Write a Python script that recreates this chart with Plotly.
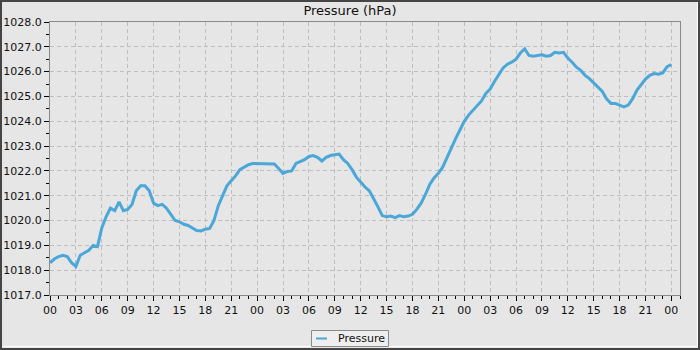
import plotly.graph_objects as go

# Hours since start (00:00 of day 1), sampled every half hour
hours = [i * 0.5 for i in range(145)]
pressure = [
    1018.30, 1018.45, 1018.55, 1018.60, 1018.55, 1018.30, 1018.15, 1018.60, 1018.70, 1018.80,
    1019.00, 1018.95, 1019.70, 1020.15, 1020.50, 1020.40, 1020.75, 1020.40, 1020.45, 1020.65,
    1021.20, 1021.40, 1021.40, 1021.20, 1020.70, 1020.60, 1020.65, 1020.50, 1020.25, 1020.00,
    1019.95, 1019.85, 1019.80, 1019.70, 1019.60, 1019.58, 1019.65, 1019.68, 1020.00, 1020.60,
    1021.00, 1021.40, 1021.60, 1021.80, 1022.05, 1022.15, 1022.25, 1022.30, 1022.30, 1022.28,
    1022.30, 1022.27, 1022.28, 1022.10, 1021.90, 1021.98, 1022.00, 1022.30, 1022.38, 1022.45,
    1022.58, 1022.62, 1022.55, 1022.40, 1022.55, 1022.62, 1022.65, 1022.68, 1022.45, 1022.30,
    1022.05, 1021.75, 1021.55, 1021.35, 1021.20, 1020.90, 1020.55, 1020.20, 1020.15, 1020.18,
    1020.12, 1020.20, 1020.15, 1020.18, 1020.25, 1020.45, 1020.70, 1021.05, 1021.45, 1021.72,
    1021.90, 1022.15, 1022.55, 1022.95, 1023.30, 1023.65, 1024.00, 1024.25, 1024.45, 1024.65,
    1024.82, 1025.12, 1025.30, 1025.60, 1025.90, 1026.15, 1026.30, 1026.38, 1026.50, 1026.75,
    1026.92, 1026.65, 1026.62, 1026.65, 1026.68, 1026.62, 1026.65, 1026.78, 1026.75, 1026.78,
    1026.55, 1026.38, 1026.18, 1026.05, 1025.85, 1025.72, 1025.55, 1025.35, 1025.20, 1024.90,
    1024.72, 1024.72, 1024.65, 1024.58, 1024.65, 1024.90, 1025.25, 1025.50, 1025.70, 1025.85,
    1025.92, 1025.90, 1025.95, 1026.20, 1026.28,
]
series_name = "Pressure"

x_tick_vals = list(range(0, 73, 3))
x_tick_text = ["00", "03", "06", "09", "12", "15", "18", "21",
               "00", "03", "06", "09", "12", "15", "18", "21",
               "00", "03", "06", "09", "12", "15", "18", "21", "00"]
y_tick_vals = [1017, 1018, 1019, 1020, 1021, 1022, 1023, 1024, 1025, 1026, 1027, 1028]
y_tick_text = [f"{v:.1f}" for v in y_tick_vals]

FONT = "DejaVu Sans"
BG = "#e6e6e6"
LINE = "#4aa7d8"

fig = go.Figure()
fig.add_trace(go.Scatter(
    x=hours, y=pressure, mode="lines", name=series_name,
    line=dict(color=LINE, width=3), showlegend=False,
))

axis_common = dict(
    showline=True, mirror=True, linecolor="#8a8a8a", linewidth=1,
    showgrid=True, gridcolor="#bebebe", gridwidth=1, griddash="4px,3px",
    ticks="outside", ticklen=5, tickcolor="#000000", tickwidth=1,
    tickfont=dict(family=FONT, size=11, color="#111111"),
    zeroline=False, fixedrange=True, automargin=False,
)

fig.update_xaxes(
    range=[0, 73], tickmode="array", tickvals=x_tick_vals, ticktext=x_tick_text,
    minor=dict(ticks="outside", ticklen=3, tick0=0, dtick=1, tickcolor="#000000", showgrid=False),
    **axis_common,
)
fig.update_yaxes(
    range=[1017, 1028], tickmode="array", tickvals=y_tick_vals, ticktext=y_tick_text,
    minor=dict(ticks="outside", ticklen=3, tick0=1017, dtick=0.5, tickcolor="#000000", showgrid=False),
    **axis_common,
)

# paper coords relative to plot area 50..680 x 22..295
pw, ph = 630.0, 273.0
def px(x):
    return (x - 50) / pw
def py(y):
    return (295 - y) / ph

shapes = [
    # outer frame
    dict(type="rect", xref="paper", yref="paper",
         x0=px(0), x1=px(700), y0=py(350), y1=py(0),
         line=dict(color="#454545", width=4), fillcolor="rgba(0,0,0,0)", layer="above"),
    dict(type="line", xref="paper", yref="paper",
         x0=px(697.5), x1=px(697.5), y0=py(346.5), y1=py(2),
         line=dict(color="#ffffff", width=1), layer="above"),
    dict(type="line", xref="paper", yref="paper",
         x0=px(2), x1=px(697.5), y0=py(346.5), y1=py(346.5),
         line=dict(color="#ffffff", width=1), layer="above"),
    # legend box
    dict(type="rect", xref="paper", yref="paper",
         x0=px(311.5), x1=px(388.5), y0=py(346.5), y1=py(330.5),
         line=dict(color="#8a8a8a", width=1), fillcolor="#eeeeee", layer="above"),
    dict(type="line", xref="paper", yref="paper",
         x0=px(316), x1=px(327), y0=py(338.5), y1=py(338.5),
         line=dict(color=LINE, width=2), layer="above"),
]

annotations = [
    dict(text=series_name, xref="paper", yref="paper", x=px(336), y=py(338.5),
         xanchor="left", yanchor="middle", showarrow=False,
         font=dict(family=FONT, size=11, color="#111111")),
]

fig.update_layout(
    width=700, height=350,
    margin=dict(l=50, r=20, t=22, b=55, pad=0, autoexpand=False),
    paper_bgcolor=BG, plot_bgcolor=BG,
    font=dict(family=FONT, size=11, color="#111111"),
    title=dict(text="Pressure (hPa)", x=0.5, xref="container", xanchor="center",
               y=1 - 10.5 / 350, yref="container", yanchor="middle",
               font=dict(family=FONT, size=13, color="#111111")),
    showlegend=False,
    shapes=shapes,
    annotations=annotations,
)

fig.write_html("out.html")
